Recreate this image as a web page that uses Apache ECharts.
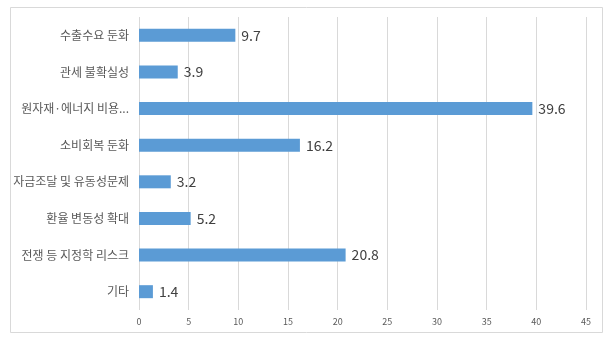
<!DOCTYPE html>
<html>
<head>
<meta charset="utf-8">
<script src="https://cdn.jsdelivr.net/npm/echarts@6/dist/echarts.min.js"></script>
<style>
  html, body { margin: 0; padding: 0; background: #fff; }
  #chart { width: 615px; height: 343px; }
</style>
</head>
<body>
<div id="chart"></div>
<script>
// Categories listed top to bottom as they appear on the chart
const categories = [
  '수출수요 둔화',
  '관세 불확실성',
  '원자재·에너지 비용...',
  '소비회복 둔화',
  '자금조달 및 유동성문제',
  '환율 변동성 확대',
  '전쟁 등 지정학 리스크',
  '기타'
];
const values = [9.7, 3.9, 39.6, 16.2, 3.2, 5.2, 20.8, 1.4];
const xTicks = { min: 0, max: 45, interval: 5 };

const FONT = '"Noto Sans CJK KR", "Noto Sans", sans-serif';
const chart = echarts.init(document.getElementById('chart'), null, { renderer: 'canvas' });

chart.setOption({
  backgroundColor: '#ffffff',
  animation: false,
  graphic: [{
    type: 'rect',
    shape: { x: 10.5, y: 7.5, width: 592, height: 325 },
    style: { fill: 'none', stroke: '#d9d9d9', lineWidth: 1 },
    silent: true
  }],
  grid: { left: 139, right: 29, top: 17, bottom: 33 },
  xAxis: {
    type: 'value',
    min: xTicks.min,
    max: xTicks.max,
    interval: xTicks.interval,
    axisLine: { show: false },
    axisTick: { show: false },
    splitLine: { show: true, lineStyle: { color: '#d9d9d9', width: 1 } },
    axisLabel: { color: '#595959', fontSize: 9, fontFamily: FONT, margin: 7 }
  },
  yAxis: {
    type: 'category',
    inverse: true,
    data: categories,
    axisLine: { show: false },
    axisTick: { show: false },
    splitLine: { show: false },
    axisLabel: { color: '#595959', fontSize: 12, fontFamily: FONT, margin: 10 }
  },
  series: [{
    type: 'bar',
    data: values,
    barWidth: 13,
    itemStyle: { color: '#5b9bd5' },
    label: {
      show: true,
      position: 'right',
      distance: 6,
      color: '#404040',
      fontSize: 14,
      fontFamily: FONT
    }
  }]
});
</script>
</body>
</html>
